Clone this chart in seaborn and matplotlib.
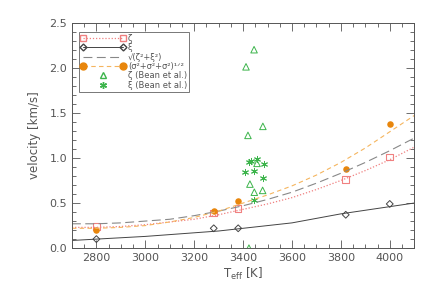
import matplotlib
matplotlib.use("Agg")
import matplotlib.pyplot as plt
import seaborn as sns
import numpy as np
import pandas as pd
from matplotlib.lines import Line2D
from matplotlib.legend_handler import HandlerLine2D
from matplotlib.ticker import MultipleLocator, FormatStrFormatter

# ---- data ----
teff_stars = [2800, 3280, 3380, 3820, 4000]
zeta_vals = [0.24, 0.39, 0.44, 0.76, 1.01]
xi_vals = [0.10, 0.22, 0.22, 0.37, 0.49]
sigma_vals = [0.20, 0.41, 0.52, 0.88, 1.38]

# fitted curves
teff_curve = [2700, 2800, 2900, 3000, 3100, 3200, 3300, 3400, 3500, 3600, 3700, 3800, 3900, 4000, 4100]
zeta_fit = [0.23, 0.23, 0.24, 0.26, 0.29, 0.32, 0.37, 0.43, 0.49, 0.56, 0.65, 0.75, 0.86, 0.98, 1.12]
xi_fit = [0.085, 0.10, 0.115, 0.13, 0.15, 0.17, 0.19, 0.22, 0.25, 0.28, 0.33, 0.38, 0.42, 0.46, 0.50]
quad_fit = [0.27, 0.27, 0.28, 0.30, 0.32, 0.36, 0.41, 0.47, 0.54, 0.62, 0.72, 0.83, 0.95, 1.08, 1.22]
sigma_fit = [0.22, 0.22, 0.23, 0.25, 0.29, 0.34, 0.41, 0.50, 0.59, 0.69, 0.81, 0.95, 1.11, 1.29, 1.47]

bean_zeta_teff = [3412, 3445, 3420, 3481, 3457, 3428, 3446, 3480, 3424]
bean_zeta_vals = [2.01, 2.20, 1.25, 1.35, 0.94, 0.71, 0.62, 0.64, 0.00]
bean_xi_teff = [3425, 3431, 3457, 3484, 3408, 3446, 3480, 3446]
bean_xi_vals = [0.95, 0.965, 0.99, 0.93, 0.84, 0.86, 0.78, 0.53]

labels = ["ζ", "ξ", "√(ζ²+ξ²)", "(σ²+σ²+σ²)¹ᐟ²",
          "ζ (Bean et al.)", "ξ (Bean et al.)"]

# ---- style ----
sns.set_style("ticks")
plt.rcParams['font.family'] = ['DejaVu Sans', 'Noto Sans']
plt.rcParams['mathtext.fontset'] = 'dejavusans'
gray = "#555555"
c_red = "#f08080"
c_black = "#444444"
c_dash = "#888888"
c_orange = "#e8860c"
c_orange_l = "#f5b55e"
c_green = "#3cb44b"

fig = plt.figure(figsize=(4.36, 2.94), dpi=100)
ax = fig.add_axes([0.165, 0.156, 0.785, 0.767])

curves = pd.DataFrame({"T": teff_curve, "zeta": zeta_fit, "xi": xi_fit,
                       "quad": quad_fit, "sigma": sigma_fit})
sns.lineplot(data=curves, x="T", y="zeta", ax=ax, color=c_red, lw=0.9,
             linestyle=(0, (1, 1.5)), legend=False)
sns.lineplot(data=curves, x="T", y="xi", ax=ax, color=c_black, lw=0.7, legend=False)
sns.lineplot(data=curves, x="T", y="quad", ax=ax, color=c_dash, lw=0.8,
             linestyle=(0, (8, 4)), legend=False)
sns.lineplot(data=curves, x="T", y="sigma", ax=ax, color=c_orange_l, lw=0.8,
             linestyle=(0, (4, 3)), legend=False)

stars = pd.DataFrame({"T": teff_stars, "zeta": zeta_vals, "xi": xi_vals, "sigma": sigma_vals})
sns.scatterplot(data=stars, x="T", y="zeta", ax=ax, marker="s", s=22,
                facecolor="none", edgecolor=c_red, linewidth=0.8, legend=False)
sns.scatterplot(data=stars, x="T", y="xi", ax=ax, marker="D", s=12,
                facecolor="none", edgecolor=c_black, linewidth=0.7, legend=False)
sns.scatterplot(data=stars, x="T", y="sigma", ax=ax, marker="o", s=22,
                color=c_orange, edgecolor=c_orange, linewidth=0, legend=False)

bz = pd.DataFrame({"T": bean_zeta_teff, "v": bean_zeta_vals})
bx = pd.DataFrame({"T": bean_xi_teff, "v": bean_xi_vals})
sns.scatterplot(data=bz, x="T", y="v", ax=ax, marker="^", s=22,
                facecolor="none", edgecolor=c_green, linewidth=0.7, legend=False)
sns.scatterplot(data=bx, x="T", y="v", ax=ax, marker=(6, 2, 0), s=20,
                color=c_green, linewidth=0.7, legend=False)

ax.set_xlim(2700, 4100)
ax.set_ylim(0, 2.5)
ax.xaxis.set_major_locator(MultipleLocator(200))
ax.xaxis.set_minor_locator(MultipleLocator(50))
ax.yaxis.set_major_locator(MultipleLocator(0.5))
ax.yaxis.set_minor_locator(MultipleLocator(0.1))
ax.yaxis.set_major_formatter(FormatStrFormatter('%.1f'))
ax.tick_params(which="both", direction="in", top=True, right=True,
               colors=gray, labelcolor=gray, labelsize=8, width=0.6)
ax.tick_params(which="major", length=6)
ax.tick_params(which="minor", length=3)
for sp in ax.spines.values():
    sp.set_color(gray)
    sp.set_linewidth(0.7)
ax.set_xlabel(r"T$_{\rm eff}$ [K]", color=gray, fontsize=8.5, labelpad=2)
ax.set_ylabel("velocity [km/s]", color=gray, fontsize=8.5, labelpad=6)

handles = [
    Line2D([], [], color=c_red, ls=(0, (1, 1.5)), lw=0.9, marker="s", mfc="none", mec=c_red, ms=5),
    Line2D([], [], color=c_black, ls="-", lw=0.7, marker="D", mfc="none", mec=c_black, ms=3.5),
    Line2D([], [], color=c_dash, ls=(0, (8, 4)), lw=0.8),
    Line2D([], [], color=c_orange_l, ls=(0, (4, 3)), lw=0.8, marker="o", mfc=c_orange, mec=c_orange, ms=5),
    Line2D([], [], ls="none", marker="^", mfc="none", mec=c_green, ms=5),
    Line2D([], [], ls="none", marker=(6, 2, 0), color=c_green, ms=5),
]
hmap = {handles[4]: HandlerLine2D(numpoints=1), handles[5]: HandlerLine2D(numpoints=1)}
leg = ax.legend(handles, labels, loc="upper left", bbox_to_anchor=(0.02, 0.96),
                fontsize=6, numpoints=2, handlelength=5.3, frameon=True,
                fancybox=False, edgecolor=gray, labelspacing=0.05,
                borderpad=0.25, handletextpad=0.35, borderaxespad=0,
                labelcolor=gray, handler_map=hmap)
leg.get_frame().set_linewidth(0.7)

fig.savefig("out.png", dpi=100)
